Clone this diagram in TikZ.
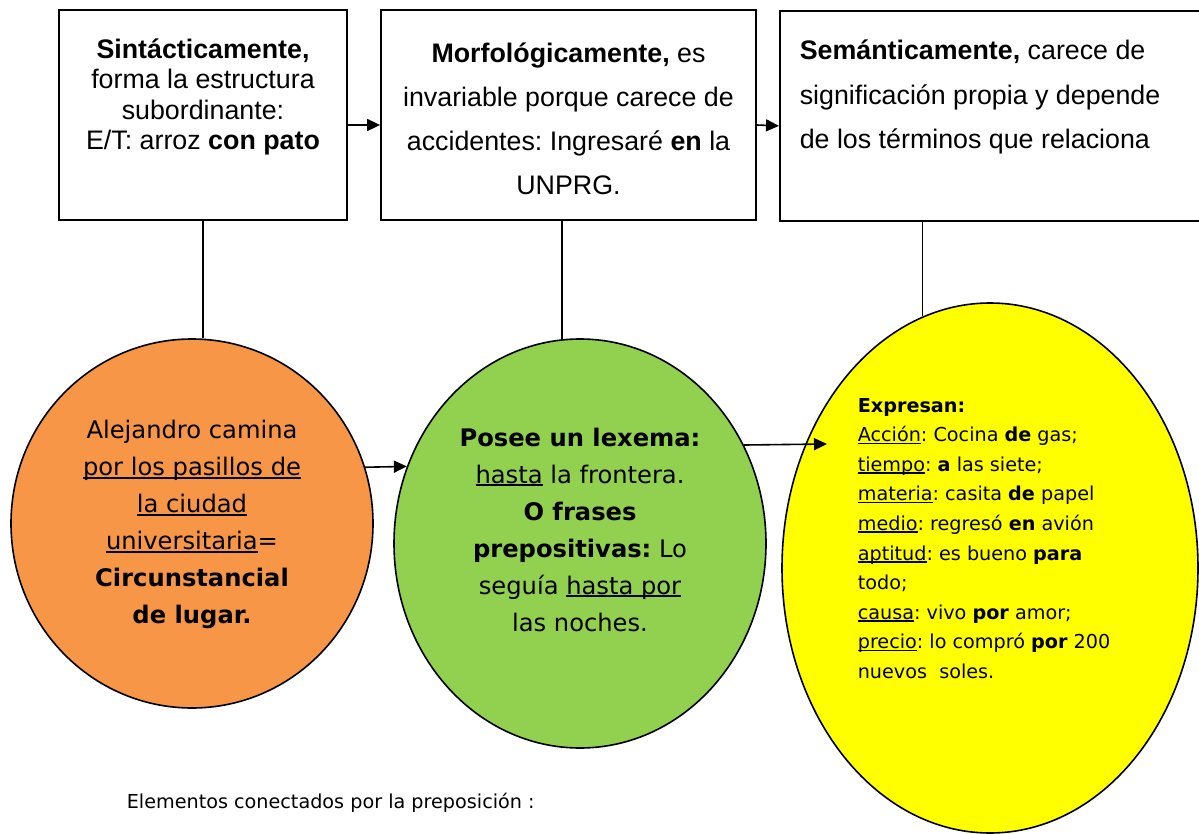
\documentclass[tikz,border=0pt]{standalone}
\usepackage{fontspec}
\setmainfont{Liberation Sans}
\newfontfamily\comic{DejaVu Sans}
\usetikzlibrary{arrows.meta,calc,shapes.geometric}
\definecolor{naranja}{HTML}{F79646}
\definecolor{verde}{HTML}{92D050}
\definecolor{amarillo}{HTML}{FFFF00}
\newcommand{\subraya}[1]{\setbox0\hbox{#1}\rlap{\rule[-0.13em]{\wd0}{0.085em}}\box0\relax}
\tikzset{
  caja/.style={draw, line width=1.8pt, inner sep=0pt, minimum height=210pt},
  cajatexto/.style={inner sep=0pt, font=\fontsize{26.8}{30.5}\selectfont},
  ovalo/.style={draw, ellipse, line width=1.6pt, inner sep=0pt},
  ovalotexto/.style={inner sep=0pt, align=center, font=\comic\fontsize{24.2}{37}\selectfont},
  chico/.style={inner sep=0pt, font=\comic\fontsize{19.2}{29.6}\selectfont}
}
\frenchspacing
\begin{document}
\begin{tikzpicture}[x=1pt, y=-1pt, >={Triangle[length=13pt,width=12pt]}, line width=1.6pt]
    \useasboundingbox (0,0) rectangle (1199,834);
    \clip (0,0) rectangle (1199,834);
    \fill[white] (0,0) rectangle (1199,834);
    \node[caja, minimum width=288pt] (sint) at (203,115) {};
    \node[caja, minimum width=375pt] (morf) at (568.5,115) {};
    \node[caja, minimum width=440pt, anchor=north west] (sem) at (779,10) {};
    \node[cajatexto, align=center] at (203,97) {\textbf{Sintácticamente,}\\forma la estructura\\subordinante:\\E/T: arroz \textbf{con pato}};
    \node[cajatexto, align=center, font=\fontsize{26.8}{44}\selectfont] at (568.5,119) {\textbf{Morfológicamente,} es\\invariable porque carece de\\accidentes: Ingresaré \textbf{en} la\\UNPRG.};
    \node[cajatexto, align=left, anchor=west, font=\fontsize{26.8}{44.5}\selectfont] at (799,97) {\textbf{Semánticamente,} carece de\\significación propia y depende\\de los términos que relaciona};
    \draw[->] ($(sint.east)+(0,10)$) -- ($(morf.west)+(0,10)$);
    \draw[->] ($(morf.east)+(0,10)$) -- ($(sem.west)+(0,10)$);
    \node[ovalo, fill=naranja, minimum width=362pt, minimum height=369pt] (lugar) at (192,523.5) {};
    \node[ovalo, fill=verde, minimum width=372pt, minimum height=409pt] (lexema) at (580,543.5) {};
    \node[ovalo, fill=amarillo, minimum width=416pt, minimum height=530pt] (expresan) at (990,568) {};
    \coordinate (entrada) at (827,444);
    \draw (sint.south) -- (sint.south |- lugar.north);
    \draw (lexema.95) -- (lexema.95 |- morf.south);
    \draw (expresan.105) -- (expresan.105 |- sem.south);
    \draw[->] (lugar.18) -- (lexema.156);
    \draw[->] (lexema.31) -- (entrada);
    \node[ovalotexto] at (192,524.5) {Alejandro camina\\\subraya{por los pasillos de}\\\subraya{la ciudad}\\\subraya{universitaria}=\\\textbf{Circunstancial}\\\textbf{de lugar.}};
    \node[ovalotexto] at (580,529.5) {\textbf{Posee un lexema:}\\\subraya{hasta} la frontera.\\\textbf{O frases}\\\textbf{prepositivas:} Lo\\seguía \subraya{hasta por}\\las noches.};
    \node[chico, align=left, anchor=west] at (857,538.5) {\textbf{Expresan:}\\\subraya{Acción}: Cocina \textbf{de} gas;\\\subraya{tiempo}: \textbf{a} las siete;\\\subraya{materia}: casita \textbf{de} papel\\\subraya{medio}: regresó \textbf{en} avión\\\subraya{aptitud}: es bueno \textbf{para}\\todo;\\\subraya{causa}: vivo \textbf{por} amor;\\\subraya{precio}: lo compró \textbf{por} 200\\nuevos\ \ soles.};
    \node[chico, anchor=west] at (126,803) {Elementos conectados por la preposición :};
\end{tikzpicture}
\end{document}
